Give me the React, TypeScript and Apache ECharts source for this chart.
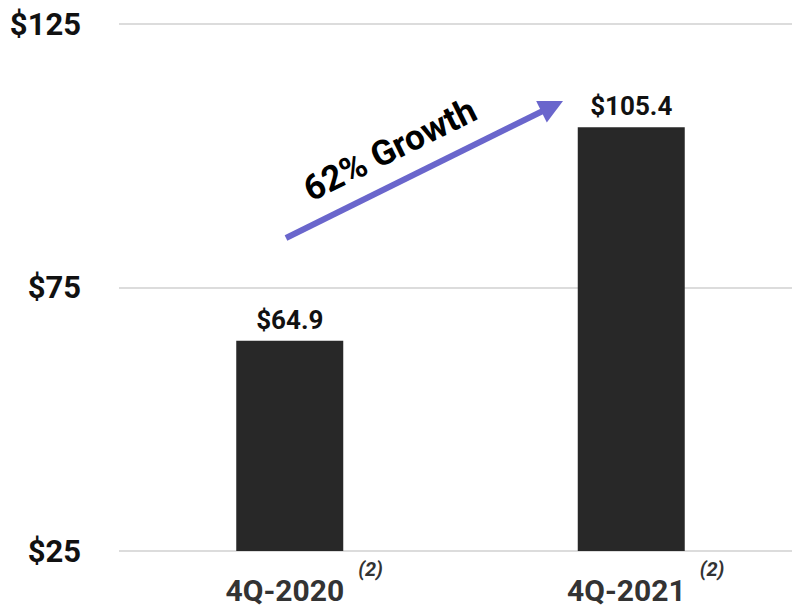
import React, { useEffect, useRef } from "react";
import * as echarts from "echarts";

const categories = ["4Q-2020", "4Q-2021"];
const values = [64.9, 105.4];
const valueLabels = ["$64.9", "$105.4"];
const yTicks = [25, 75, 125];
const footnote = "(2)";
const growthText = "62% Growth";

export default function App() {
  const ref = useRef<HTMLDivElement>(null);
  useEffect(() => {
    if (!ref.current) return;
    const chart = echarts.init(ref.current, null, { renderer: "svg" });
    const tip = [563, 101];
    const start = [286, 238];
    const dx = tip[0] - start[0];
    const dy = tip[1] - start[1];
    const len = Math.sqrt(dx * dx + dy * dy);
    const ux = dx / len;
    const uy = dy / len;
    const headLen = 24;
    const headHalf = 12;
    const bx = tip[0] - ux * headLen;
    const by = tip[1] - uy * headLen;
    const px = -uy;
    const py = ux;
    chart.setOption({
      animation: false,
      textStyle: { fontFamily: "Roboto" },
      grid: {
        left: 119,
        width: 683,
        top: 24,
        bottom: 55,
        containLabel: false,
        outerBoundsMode: "none",
      },
      xAxis: {
        type: "category",
        data: categories,
        axisLine: { show: false },
        axisTick: { show: false },
        axisLabel: {
          margin: 8,
          formatter: (v: string) => `{a|${v}}{b|${footnote}}`,
          rich: {
            a: {
              fontSize: 30,
              fontWeight: "bold",
              color: "#333333",
              fontFamily: "Roboto",
              lineHeight: 62,
              padding: [0, 0, 0, 29],
            },
            b: {
              fontSize: 20,
              fontStyle: "italic",
              fontWeight: "bold",
              color: "#333333",
              fontFamily: "Roboto",
              lineHeight: 20,
              verticalAlign: "top",
              padding: [0, 0, 0, 14],
            },
          },
        },
      },
      yAxis: {
        type: "value",
        min: yTicks[0],
        max: yTicks[yTicks.length - 1],
        interval: yTicks[1] - yTicks[0],
        axisLine: { show: false },
        axisTick: { show: false },
        axisLabel: {
          formatter: (v: number) => `$${v}`,
          fontSize: 31,
          fontWeight: "bold",
          color: "#111111",
          fontFamily: "Roboto",
          margin: 38,
        },
        splitLine: { lineStyle: { color: "#dcdcdc", width: 2 } },
      },
      series: [
        {
          type: "bar",
          data: values,
          barWidth: 107,
          itemStyle: { color: "#282828" },
          label: {
            show: true,
            position: "top",
            distance: 8,
            formatter: (p: any) => valueLabels[p.dataIndex],
            fontSize: 26,
            fontWeight: "bold",
            color: "#111111",
            fontFamily: "Roboto",
          },
        },
      ],
      graphic: [
        {
          type: "line",
          shape: { x1: start[0], y1: start[1], x2: bx + ux * 2, y2: by + uy * 2 },
          style: { stroke: "#6a66cc", lineWidth: 6 },
          z: 10,
        },
        {
          type: "polygon",
          shape: {
            points: [
              [tip[0], tip[1]],
              [bx + px * headHalf, by + py * headHalf],
              [bx - px * headHalf, by - py * headHalf],
            ],
          },
          style: { fill: "#6a66cc" },
          z: 10,
        },
        {
          type: "text",
          x: 390,
          y: 150,
          rotation: 0.46,
          style: {
            text: growthText,
            fontSize: 35,
            fontWeight: "bold",
            fontFamily: "Roboto",
            fill: "#000000",
            align: "center",
            verticalAlign: "middle",
          },
          z: 10,
        },
      ],
    });
    return () => chart.dispose();
  }, []);
  return (
    <div
      ref={ref}
      style={{ position: "fixed", left: 0, top: 0, width: 792, height: 606, background: "#ffffff" }}
    />
  );
}
